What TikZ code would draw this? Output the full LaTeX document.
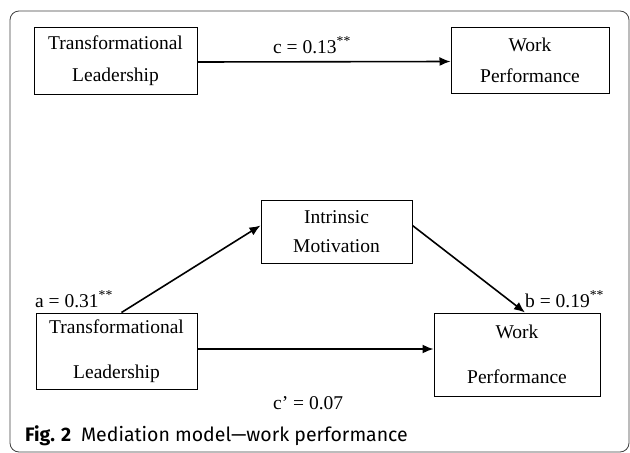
\documentclass[tikz,border=0pt]{standalone}
\usepackage{fontspec}
\setmainfont{Liberation Serif}
\newfontfamily\capfont{Fira Sans}
\usetikzlibrary{arrows.meta}

\begin{document}
\begin{tikzpicture}[x=1pt,y=-1pt,
        box/.style={draw,line width=1pt,align=center,inner sep=0pt},
        effect/.style={line width=1.6pt,-{Latex[length=11pt,width=9pt]}},
        coef/.style={anchor=base west,inner sep=0pt,font=\fontsize{19.5}{23}\selectfont}]
        \useasboundingbox (0,0) rectangle (630,453);
        % 外框
        \draw [black!75,line width=0.8pt,rounded corners=9pt] (10,11) rectangle (629,452);
        % 总效应模型
        \node [box,minimum width=163pt,minimum height=67pt,font=\fontsize{19.5}{32}\selectfont]
            (tl) at (115.5,60.5) {Transformational\\Leadership};
        \node [box,minimum width=158pt,minimum height=66pt,font=\fontsize{19.5}{31}\selectfont]
            (tr) at (530,60) {Work\\Performance};
        \draw [effect] ([yshift=-1.5pt]tl.east) -- ([yshift=-1.5pt]tr.west);
        \node [coef] (c) at (273,53) {c = 0.13\textsuperscript{**}};
        % 中介模型
        \node [box,minimum width=151pt,minimum height=63pt,font=\fontsize{19.5}{29}\selectfont]
            (im) at (336.5,231.5) {Intrinsic\\Motivation};
        \node [box,minimum width=161pt,minimum height=76pt,font=\fontsize{19.5}{45}\selectfont]
            (bl) at (116.5,351) {Transformational\\Leadership};
        \node [box,minimum width=166pt,minimum height=83pt,font=\fontsize{19.5}{45}\selectfont]
            (br) at (517,354.5) {Work\\Performance};
        % 路径 a, b, c'
        \draw [effect] ([xshift=5pt]bl.north) -- ([yshift=6pt]im.west);
        \draw [effect] ([yshift=6pt]im.east) -- ([xshift=8pt]br.north);
        \draw [effect] ([yshift=2pt]bl.east) -- ([yshift=2pt]bl.east -| br.west);
        \node [coef] (a) at (35,307) {a = 0.31\textsuperscript{**}};
        \node [coef] (b) at (525,307) {b = 0.19\textsuperscript{**}};
        \node [coef] (cp) at (273,409) {c’ = 0.07};
        % 图题
        \node [anchor=base west,inner sep=0pt,font=\capfont\fontsize{19.5}{23}\selectfont]
            (cap) at (25,441) {\textbf{Fig. 2}\enspace Mediation model—work performance};
\end{tikzpicture}
\end{document}
